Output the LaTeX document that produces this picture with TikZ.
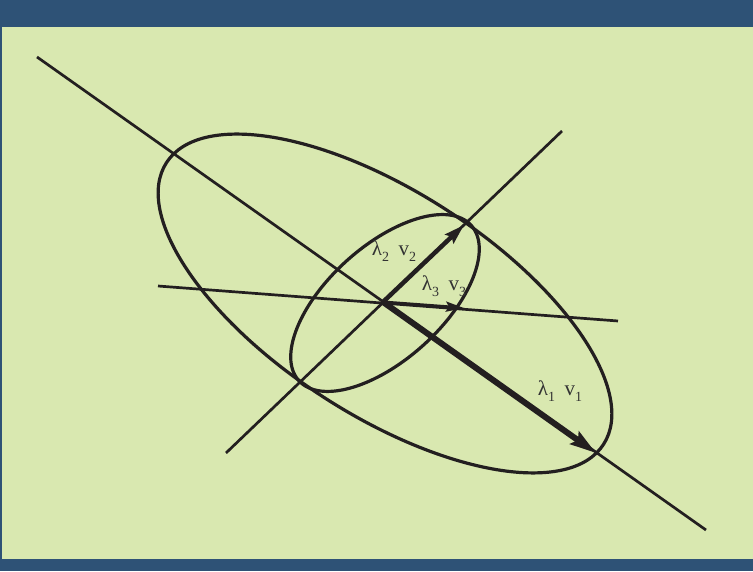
\documentclass[tikz,border=0pt]{standalone}
\usepackage{fontspec}
\setmainfont{Liberation Serif}
\usetikzlibrary{arrows.meta}
\definecolor{barblue}{HTML}{2E5276}
\definecolor{bggreen}{HTML}{D9E8B0}
\definecolor{ink}{HTML}{231F20}
\definecolor{txt}{HTML}{333333}
\newcommand{\subidx}[1]{\raisebox{-0.3em}{\fontsize{14}{16}\selectfont #1}}
\tikzset{
  axisline/.style={draw=ink, line width=2.7pt},
  ell/.style={draw=ink, line width=3.2pt},
  vec/.style={draw=ink, fill=ink},
  lab/.style={text=txt, font=\fontsize{21}{24}\selectfont, inner sep=0pt}
}
\begin{document}
\begin{tikzpicture}[x=1pt,y=1pt]
\useasboundingbox (0,0) rectangle (753,571);
\fill[barblue] (0,0) rectangle (753,571);
\fill[bggreen] (1.5,12.5) rectangle (753,544);
% axes
\coordinate (a1s) at (37,514);
\coordinate (a1e) at (706,41);
\coordinate (a2s) at (226,118);
\coordinate (a2e) at (562,440);
\coordinate (a3s) at (158,285);
\coordinate (a3e) at (618,250);
\draw[axisline] (a1s) -- (a1e);
\draw[axisline] (a2s) -- (a2e);
\draw[axisline] (a3s) -- (a3e);
% ellipses
\coordinate (cb) at (385,267.5);
\coordinate (cs) at (385,268);
\draw[ell] (cb) ellipse [x radius=260, y radius=112, rotate=-32.8];
\draw[ell] (cs) ellipse [x radius=116, y radius=57, rotate=42];
% vectors
\coordinate (O) at (383,269);
\coordinate (t1) at (596,118);
\coordinate (t2) at (464,346);
\coordinate (t3) at (464,263);
\draw[vec, line width=6pt, -{Stealth[length=26pt,width=15pt,inset=4pt]}] (O) -- (t1);
\draw[vec, line width=4.5pt, -{Stealth[length=20pt,width=12pt,inset=3pt]}] (O) -- (t2);
\draw[vec, line width=3pt, -{Stealth[length=18pt,width=10pt,inset=3pt]}] (O) -- (t3);
% labels
\node[lab] (l2) at (394,320) {λ\subidx{2}\hspace{0.45em}v\subidx{2}};
\node[lab] (l3) at (444,285) {λ\subidx{3}\hspace{0.45em}v\subidx{3}};
\node[lab] (l1) at (560,180) {λ\subidx{1}\hspace{0.45em}v\subidx{1}};
\end{tikzpicture}
\end{document}
